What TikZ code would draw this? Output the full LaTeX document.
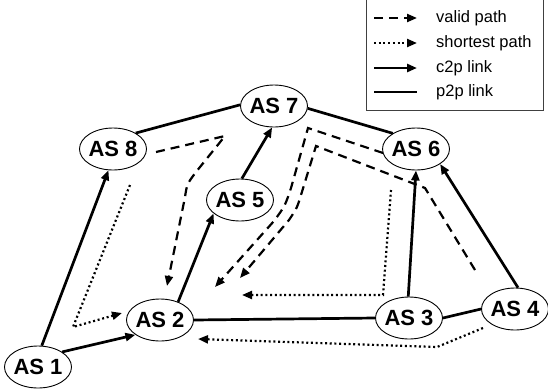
\documentclass[tikz,border=0pt]{standalone}
\usepackage{fontspec}
\setmainfont{Liberation Sans}
\usetikzlibrary{arrows.meta,shapes.geometric}
\begin{document}
\begin{tikzpicture}[x=1pt,y=-1pt,
  asnode/.style={ellipse,draw,line width=0.9pt,minimum width=67pt,minimum height=42pt,
    inner sep=-3pt,font=\fontsize{22}{22}\selectfont\bfseries},
  headed/.style={-{Triangle[length=10pt,width=8pt]}},
  c2p/.style={line width=2.7pt,headed},
  p2p/.style={line width=2.7pt},
  validpath/.style={line width=2.2pt,dash pattern=on 9pt off 6pt,headed},
  shortpath/.style={line width=2.2pt,dash pattern=on 2pt off 2.7pt,headed},
  legtext/.style={anchor=west,font=\fontsize{16.5}{16.5}\selectfont,inner sep=0pt}
]
\useasboundingbox (0,0) rectangle (548,391);

% legend
\draw[line width=1pt,black!75] (366,-1) rectangle (543,110);
\coordinate (l1a) at (374,18); \coordinate (l1b) at (417,18);
\coordinate (l2a) at (374,43); \coordinate (l2b) at (417,43);
\coordinate (l3a) at (374,68); \coordinate (l3b) at (417,68);
\coordinate (l4a) at (374,92); \coordinate (l4b) at (417,92);
\draw[validpath] (l1a) -- (l1b);
\draw[shortpath] (l2a) -- (l2b);
\draw[c2p] (l3a) -- (l3b);
\draw[p2p] (l4a) -- (l4b);
\node[legtext] (t1) at (436,18) {valid path};
\node[legtext] (t2) at (436,43) {shortest path};
\node[legtext] (t3) at (436,68) {c2p link};
\node[legtext] (t4) at (436,92) {p2p link};

% autonomous systems
\node[asnode] (a1) at (38,367) {AS 1};
\node[asnode] (a2) at (160,320) {AS 2};
\node[asnode] (a3) at (409,318) {AS 3};
\node[asnode] (a4) at (515,309) {AS 4};
\node[asnode] (a5) at (240,200) {AS 5};
\node[asnode] (a6) at (416,149) {AS 6};
\node[asnode] (a7) at (274,106) {AS 7};
\node[asnode] (a8) at (113,149) {AS 8};

% customer-to-provider links
\draw[c2p] (a1.80) -- (a8.258);
\draw[c2p] (a1.32) -- (a2.211);
\draw[c2p] (a2.45) -- (a5.207);
\draw[c2p] (a5.85) -- (a7.265);
\draw[c2p] (a3.92) -- (a6.270);
\draw[c2p] (a4.82) -- (a6.328);

% peer-to-peer links
\draw[p2p] (a8.35) -- (a7.178);
\draw[p2p] (a7.356) -- (a6.146);
\draw[p2p] (a2.east) -- (a3.west);
\draw[p2p] (a3.east) -- (a4.west);

% valid paths
\coordinate (v1s) at (156,152);
\coordinate (v1k) at (225,136);
\coordinate (v1a) at (196,172);
\coordinate (v1c) at (187,184);
\coordinate (v1b) at (185,197);
\coordinate (v1e) at (167,286);
\draw[validpath] (v1s) -- (v1k) -- (v1a) .. controls (v1c) .. (v1b) -- (v1e);

\coordinate (v2s) at (383,153);
\coordinate (v2k) at (308,128);
\coordinate (v2a) at (291,188);
\coordinate (v2c) at (285,206);
\coordinate (v2b) at (274,221);
\coordinate (v2e) at (215,287);
\draw[validpath] (v2s) -- (v2k) -- (v2a) .. controls (v2c) .. (v2b) -- (v2e);

\coordinate (v3s) at (475,270);
\coordinate (v3k) at (425,188);
\coordinate (v3m) at (316,146);
\coordinate (v3a) at (301,195);
\coordinate (v3c) at (297,208);
\coordinate (v3b) at (289,220);
\coordinate (v3e) at (240,278);
\draw[validpath] (v3s) -- (v3k) -- (v3m) -- (v3a) .. controls (v3c) .. (v3b) -- (v3e);

% shortest paths
\coordinate (s1s) at (130,185);
\coordinate (s1k) at (73,327);
\coordinate (s1e) at (122,313);
\draw[shortpath] (s1s) -- (s1k) -- (s1e);

\coordinate (s2s) at (391,190);
\coordinate (s2k) at (383,295);
\coordinate (s2e) at (242,295);
\draw[shortpath] (s2s) -- (s2k) -- (s2e);

\coordinate (s3s) at (483,328);
\coordinate (s3k) at (437,347);
\coordinate (s3e) at (198,339);
\draw[shortpath] (s3s) -- (s3k) -- (s3e);
\end{tikzpicture}
\end{document}
